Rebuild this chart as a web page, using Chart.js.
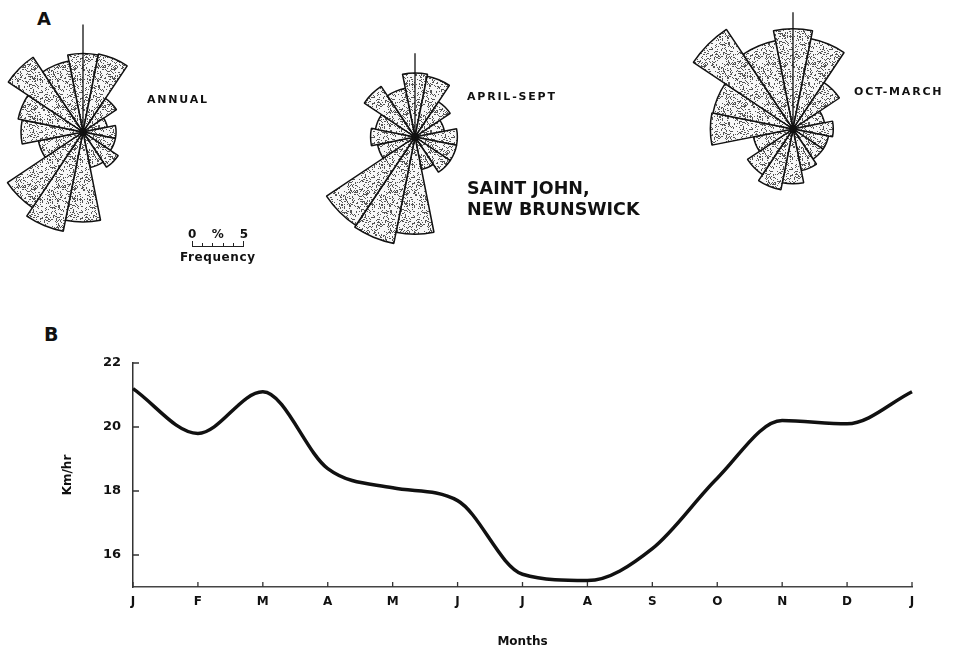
<!DOCTYPE html>
<html>
<head>
<meta charset="utf-8">
<script src="https://cdn.jsdelivr.net/npm/chart.js@4/dist/chart.umd.min.js"></script>
<style>
  body { margin: 0; background: #fff; width: 956px; height: 649px; overflow: hidden; position: relative;
         font-family: "DejaVu Sans", sans-serif; font-weight: bold; color: #111; }
  .abs { position: absolute; white-space: nowrap; }
  .lbl { font-size: 11px; letter-spacing: 1.8px; }
  .big { font-size: 17.5px; }
</style>
</head>
<body>
<div class="abs" style="left:37px;top:8px;font-size:18px">A</div>

<div class="abs" id="roseAnnual"></div>
<div class="abs" id="roseSummer"></div>
<div class="abs" id="roseWinter"></div>

<div class="abs lbl" style="left:147px;top:93px">ANNUAL</div>
<div class="abs lbl" style="left:467px;top:90px">APRIL-SEPT</div>
<div class="abs lbl" style="left:854px;top:85px">OCT-MARCH</div>
<div class="abs big" style="left:467px;top:178px">SAINT JOHN,</div>
<div class="abs big" style="left:467px;top:199px">NEW BRUNSWICK</div>

<div class="abs" id="scaleBar" style="left:192px;top:227px"></div>

<div class="abs" style="left:44px;top:323px;font-size:19px">B</div>
<div class="abs" style="left:0;top:280px"><canvas id="speedChart" width="956" height="369"></canvas></div>

<script>
// wind frequency (%) by direction, starting at north, clockwise
const directions = ['N', 'NNE', 'NE', 'ENE', 'E', 'ESE', 'SE', 'SSE', 'S', 'SSW', 'SW', 'WSW', 'W', 'WNW', 'NW', 'NNW'];
const annual    = [7.6, 7.7, 3.9, 2.4, 3.2, 3.2, 4.1, 3.5, 8.7, 9.8, 8.8, 4.4, 6.0, 6.4, 8.7, 7.0];
const aprilSept = [6.2, 6.0, 4.1, 2.9, 4.1, 4.1, 4.1, 3.2, 9.4, 10.5, 10.3, 3.7, 4.3, 3.9, 5.9, 4.8];
const octMarch  = [9.7, 8.9, 5.4, 3.1, 3.9, 3.5, 3.5, 4.1, 5.3, 6.0, 5.3, 3.9, 8.0, 7.9, 11.6, 8.7];
// length of the north marker, in %
const northTip  = [10.4, 8.1, 11.3];

// mean monthly wind speed (km/hr)
const months = ['J', 'F', 'M', 'A', 'M', 'J', 'J', 'A', 'S', 'O', 'N', 'D', 'J'];
const speed  = [21.2, 19.8, 21.1, 18.7, 18.1, 17.7, 15.4, 15.2, 16.2, 18.4, 20.2, 20.1, 21.1];
const yTicks = [16, 18, 20, 22];

const FONT = '"DejaVu Sans", sans-serif';
const roseMax = 12;
const roseSize = 248;
const pxPerPct = roseSize / 2 / roseMax;

// stippled fill texture
function stipple() {
    const n = 40;
    const c = document.createElement('canvas');
    c.width = n; c.height = n;
    const g = c.getContext('2d');
    g.fillStyle = '#f7f7f7';
    g.fillRect(0, 0, n, n);
    g.fillStyle = '#555';
    let s = 12345;
    for (let i = 0; i < n * n; i++) {
        s = (s * 1103515245 + 12345) % 2147483648;
        if (s / 2147483648 < 0.24) g.fillRect(i % n, Math.floor(i / n), 1, 1);
    }
    return g.createPattern(c, 'repeat');
}
const dots = stipple();

const northLine = {
    id: 'northLine',
    afterDatasetsDraw(chart, args, opts) {
        const r = chart.scales.r;
        const ctx = chart.ctx;
        ctx.save();
        ctx.strokeStyle = '#111';
        ctx.lineWidth = 1.3;
        ctx.beginPath();
        ctx.moveTo(r.xCenter, r.yCenter);
        ctx.lineTo(r.xCenter, r.yCenter - r.getDistanceFromCenterForValue(opts.tip));
        ctx.stroke();
        ctx.restore();
    }
};

function rose(id, values, tip, cx, cy) {
    const holder = document.getElementById(id);
    holder.style.left = (cx - roseSize / 2) + 'px';
    holder.style.top = (cy - roseSize / 2) + 'px';
    const cv = document.createElement('canvas');
    cv.width = roseSize; cv.height = roseSize;
    holder.appendChild(cv);
    new Chart(cv, {
        type: 'polarArea',
        data: {
            labels: directions,
            datasets: [{
                data: values,
                backgroundColor: dots,
                borderColor: '#111',
                borderWidth: 1.5
            }]
        },
        options: {
            responsive: false,
            animation: false,
            layout: { padding: 0 },
            scales: {
                r: { display: false, min: 0, max: roseMax, startAngle: -11.25 }
            },
            plugins: {
                legend: { display: false },
                tooltip: { enabled: false },
                northLine: { tip: tip }
            }
        },
        plugins: [northLine]
    });
}

rose('roseAnnual', annual, northTip[0], 83, 132);
rose('roseSummer', aprilSept, northTip[1], 415, 137);
rose('roseWinter', octMarch, northTip[2], 793, 129);

// frequency scale bar (0-5 %)
(function () {
    const w = 5 * pxPerPct;
    const bar = document.getElementById('scaleBar');
    let html = '<div class="abs" style="font-size:12px;left:-4px;top:0">0</div>' +
        '<div class="abs" style="font-size:12px;left:' + (w / 2 - 6) + 'px;top:0">%</div>' +
        '<div class="abs" style="font-size:12px;left:' + (w - 4) + 'px;top:0">5</div>' +
        '<div class="abs" style="left:0;top:19px;width:' + w + 'px;border-top:1.5px solid #222"></div>';
    for (let i = 0; i <= 5; i++) {
        html += '<div class="abs" style="left:' + (i * pxPerPct - 0.5) + 'px;top:' + (i % 5 ? 16 : 14) + 'px;height:' + (i % 5 ? 3 : 5) + 'px;border-left:1.2px solid #222"></div>';
    }
    html += '<div class="abs" style="font-size:12px;letter-spacing:0.6px;left:-12px;top:23px">Frequency</div>';
    bar.innerHTML = html;
})();

const innerTicks = {
    id: 'innerTicks',
    afterDraw(chart) {
        const {ctx, chartArea, scales: {x, y}} = chart;
        ctx.save();
        ctx.strokeStyle = '#333';
        ctx.lineWidth = 1.3;
        ctx.beginPath();
        months.forEach((m, i) => {
            const px = x.getPixelForValue(i);
            ctx.moveTo(px, chartArea.bottom);
            ctx.lineTo(px, chartArea.bottom - 5);
        });
        yTicks.forEach(v => {
            const py = y.getPixelForValue(v);
            ctx.moveTo(chartArea.left, py);
            ctx.lineTo(chartArea.left + 6, py);
        });
        ctx.stroke();
        ctx.restore();
    }
};

new Chart('speedChart', {
    type: 'line',
    data: {
        labels: months,
        datasets: [{
            data: speed,
            borderColor: '#111',
            borderWidth: 3.5,
            pointRadius: 0,
            cubicInterpolationMode: 'monotone',
            fill: false
        }]
    },
    options: {
        responsive: false,
        animation: false,
        layout: { padding: { top: 83, right: 44, left: 0, bottom: 0 } },
        scales: {
            x: {
                grid: { display: false, drawTicks: false },
                border: { display: true, color: '#444', width: 1.5 },
                ticks: { color: '#111', padding: 8, maxRotation: 0, autoSkip: false,
                         font: { family: FONT, size: 12, weight: 'bold' } },
                title: { display: true, text: 'Months', color: '#111', padding: { top: 0, bottom: 0 },
                         font: { family: FONT, size: 12, weight: 'bold' } },
                afterFit(scale) { scale.height = 62; }
            },
            y: {
                min: 15,
                max: 22,
                grid: { display: false, drawTicks: false },
                border: { display: true, color: '#333', width: 1.5 },
                ticks: { color: '#111', padding: 12,
                         font: { family: FONT, size: 13, weight: 'bold' } },
                afterBuildTicks(scale) { scale.ticks = yTicks.map(v => ({ value: v })); },
                title: { display: true, text: 'Km/hr', color: '#111', padding: { top: 61, bottom: 0 },
                         font: { family: FONT, size: 12, weight: 'bold' } },
                afterFit(scale) { scale.width = 133; }
            }
        },
        plugins: {
            legend: { display: false },
            tooltip: { enabled: false }
        }
    },
    plugins: [innerTicks]
});
</script>
</body>
</html>
